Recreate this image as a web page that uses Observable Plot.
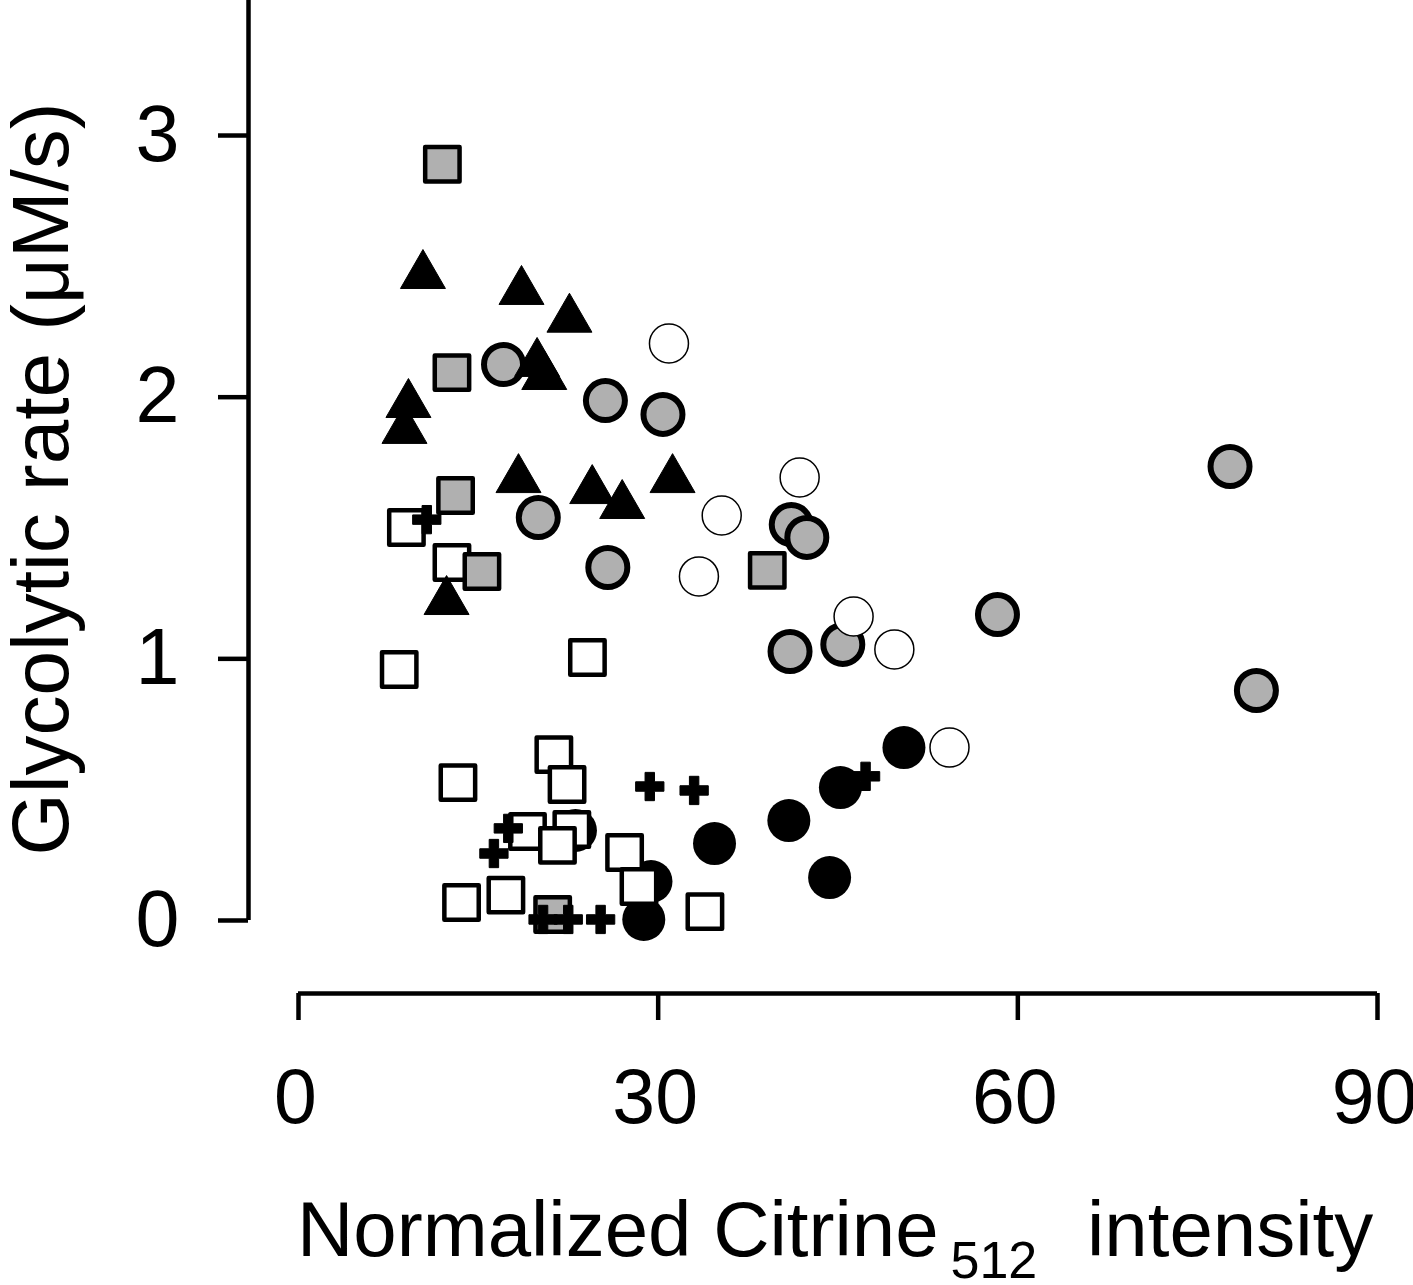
<!DOCTYPE html>
<html><head><meta charset="utf-8">
<script src="https://cdn.jsdelivr.net/npm/d3@7"></script>
<script src="https://cdn.jsdelivr.net/npm/@observablehq/plot@0.6"></script>
<style>body{margin:0;background:#fff}</style>
</head><body><div id="chart"></div>
<script>
// axes
const xTicks = [0, 30, 60, 90];
const yTicks = [0, 1, 2, 3];
const xDomain = [0, 90];
const yDomain = [-0.279, 3.516];
const yLabel = "Glycolytic rate (\u03BCM/s)";
const xLabelMain = "Normalized Citrine";
const xLabelSub = "512";
const xLabelTail = "intensity";

// series
const graySquareX = [12.0, 12.8, 13.1, 15.3, 39.1, 21.2];
const graySquareY = [2.89, 2.094, 1.624, 1.334, 1.338, 0.023];

const triangleX = [10.38, 18.6, 22.6, 19.9, 20.5, 9.17, 8.84, 18.35, 24.5, 27.0, 31.2, 12.35];
const triangleY = [2.465, 2.404, 2.298, 2.129, 2.079, 1.972, 1.873, 1.685, 1.643, 1.586, 1.685, 1.219];

const grayCircleX = [17.1, 25.6, 30.4, 20.0, 25.8, 41.1, 42.4, 41.0, 45.4, 58.3, 77.7, 79.9];
const grayCircleY = [2.125, 1.987, 1.934, 1.540, 1.349, 1.513, 1.464, 1.028, 1.055, 1.169, 1.735, 0.879];

const whiteCircleX = [30.9, 41.8, 35.3, 33.4, 46.3, 49.7, 54.3];
const whiteCircleY = [2.205, 1.693, 1.548, 1.315, 1.162, 1.036, 0.661];

const blackCircleX = [50.5, 45.2, 40.9, 34.7, 44.3, 29.4, 28.8, 23.1];
const blackCircleY = [0.661, 0.508, 0.382, 0.294, 0.164, 0.149, 0.004, 0.344];

const whiteSquareX = [9.0, 12.8, 8.4, 24.1, 13.3, 21.3, 22.4, 19.1, 22.8, 21.6, 27.2, 28.4, 13.6, 17.3, 33.9];
const whiteSquareY = [1.502, 1.368, 0.959, 1.005, 0.527, 0.634, 0.520, 0.340, 0.348, 0.287, 0.26, 0.13, 0.069, 0.097, 0.034];

const plusX = [10.7, 29.3, 33.0, 17.5, 16.3, 25.2, 20.4, 22.5, 47.3];
const plusY = [1.532, 0.512, 0.497, 0.352, 0.256, 0.004, 0.004, 0.004, 0.551];

const rows = (xs, ys) => xs.map((x, i) => ({x, y: ys[i]}));
const gray = "#b0b0b0";
const font = "'Liberation Sans', Arial, Helvetica, sans-serif";

const plot = Plot.plot({
  width: 1413,
  height: 1285,
  marginLeft: 298,
  marginRight: 36,
  marginTop: 0,
  marginBottom: 292,
  x: {domain: xDomain},
  y: {domain: yDomain},
  style: {fontFamily: font, fontSize: "79px", color: "black", background: "white"},
  marks: [
    Plot.ruleX([xDomain[0]], {y1: 0, y2: yDomain[1], dx: -50, strokeWidth: 4.5}),
    Plot.ruleY([yDomain[0]], {x1: xDomain[0], x2: xDomain[1], strokeWidth: 4.5}),
    Plot.axisY({ticks: yTicks, tickSize: 30, tickPadding: 39, dx: -50, strokeWidth: 4.5, fontSize: 79, label: null, tickFormat: d => String(d)}),
    Plot.axisX({ticks: xTicks, tickSize: 27, fill: "none", strokeWidth: 4.5, label: null}),
    Plot.axisX({ticks: xTicks, tickSize: 0, tickPadding: 75, dx: -3, fontSize: 77, label: null, tickFormat: d => String(d)}),
    Plot.dot(rows(grayCircleX, grayCircleY), {x: "x", y: "y", r: 19.5, fill: gray, stroke: "black", strokeWidth: 6}),
    Plot.dot(rows(blackCircleX, blackCircleY), {x: "x", y: "y", r: 21.5, fill: "black"}),
    Plot.dot(rows(whiteSquareX, whiteSquareY), {x: "x", y: "y", symbol: "square", r: 19.4, fill: "white", stroke: "black", strokeWidth: 4.5, strokeLinejoin: "round"}),
    Plot.dot(rows(graySquareX, graySquareY), {x: "x", y: "y", symbol: "square", r: 19.4, fill: gray, stroke: "black", strokeWidth: 4.5, strokeLinejoin: "round"}),
    Plot.dot(rows(triangleX, triangleY), {x: "x", y: "y", symbol: "triangle", r: 16.7, fill: "black", stroke: "black", strokeWidth: 1, strokeLinejoin: "round"}),
    Plot.dot(rows(whiteCircleX, whiteCircleY), {x: "x", y: "y", r: 19.5, fill: "white", stroke: "black", strokeWidth: 1.5}),
    Plot.dot(rows(plusX, plusY), {x: "x", y: "y", symbol: "cross", r: 11.9, fill: "black", stroke: "black", strokeWidth: 1, strokeLinejoin: "round"}),
    Plot.text([yLabel], {frameAnchor: "left", dx: -231, dy: -18, rotate: -90, lineAnchor: "bottom", textAnchor: "middle", fontSize: 80, fill: "black"})
  ]
});

const svg = d3.select(plot);
const lbl = svg.append("text")
  .attr("x", 297).attr("y", 1256)
  .attr("text-anchor", "start")
  .attr("font-size", 78).attr("fill", "black").attr("font-family", font);
lbl.append("tspan").text(xLabelMain);
lbl.append("tspan").attr("font-size", 52).attr("dx", 12).attr("dy", 22).text(xLabelSub);
lbl.append("tspan").attr("x", 1087).attr("dy", -22).text(xLabelTail);

document.getElementById("chart").appendChild(plot);
</script>
</body></html>
